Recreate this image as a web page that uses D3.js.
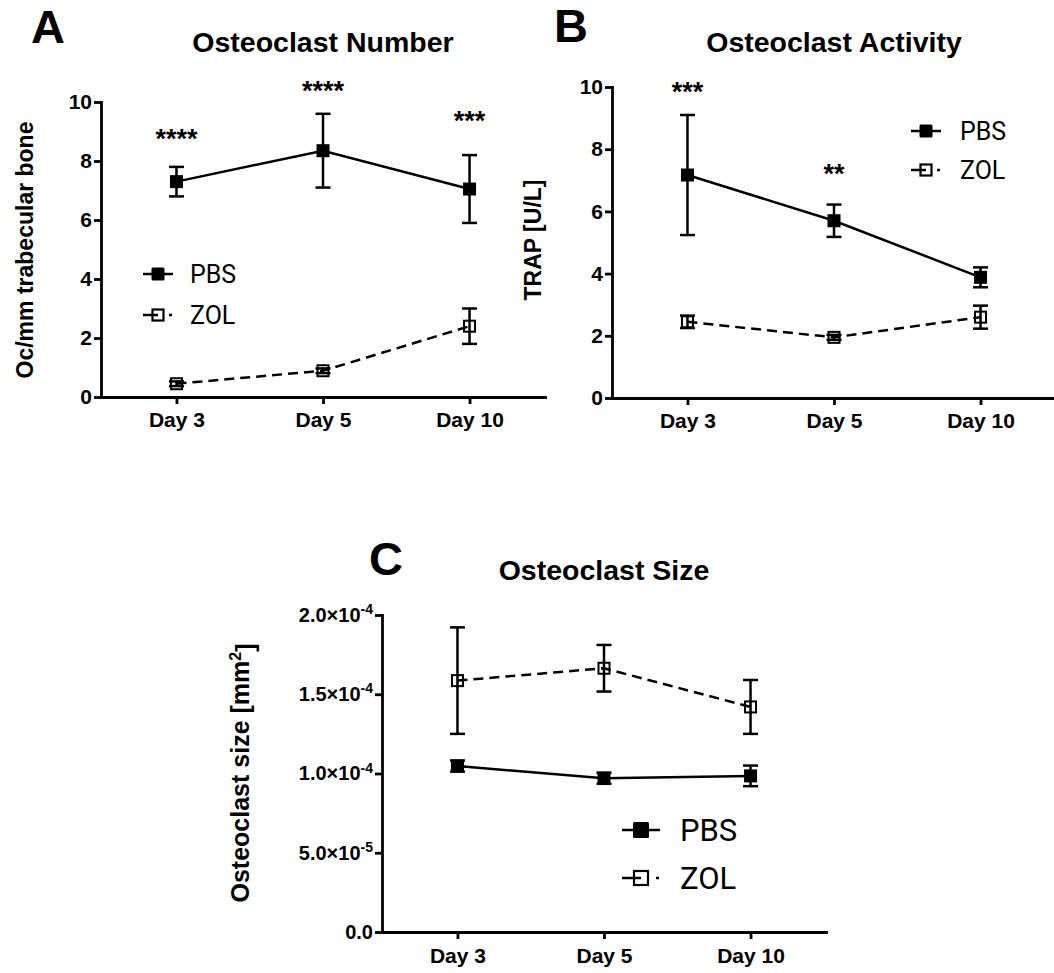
<!DOCTYPE html>
<html>
<head>
<meta charset="utf-8">
<script src="https://cdn.jsdelivr.net/npm/d3@7"></script>
<style>
  body { margin: 0; background: #fff; }
  svg text { font-family: "Liberation Sans", Arial, sans-serif; fill: #000; }
  .axis path, .axis line { stroke: #000; stroke-width: 2.8; }
  .axis text { font-weight: bold; font-size: 21px; }
</style>
</head>
<body>
<div id="fig"></div>
<script>
const days = ['Day 3', 'Day 5', 'Day 10'];

// A - osteoclast number
const numPBS = [7.3, 8.35, 7.05];
const numPBSerr = [0.5, 1.25, 1.15];
const numZOL = [0.45, 0.89, 2.4];
const numZOLerr = [0.08, 0.08, 0.6];
const numStars = ['****', '****', '***'];
const numStarLevel = [8.95, 10.58, 9.56];

// B - TRAP activity
const trapPBS = [7.17, 5.7, 3.88];
const trapPBSerr = [1.93, 0.52, 0.32];
const trapZOL = [2.45, 1.95, 2.6];
const trapZOLerr = [0.2, 0.08, 0.37];
const trapStars = ['***', '**', ''];
const trapStarLevel = [10.03, 7.4, 0];

// C - osteoclast size
const sizePBS = [1.047e-4, 0.97e-4, 0.985e-4];
const sizePBSerr = [0.035e-4, 0.035e-4, 0.065e-4];
const sizeZOL = [1.586e-4, 1.664e-4, 1.42e-4];
const sizeZOLerr = [0.336e-4, 0.147e-4, 0.17e-4];

const yTicksAB = [0, 2, 4, 6, 8, 10];
const yTicksC = [0, 5e-5, 1e-4, 1.5e-4, 2e-4];
const groups = ['PBS', 'ZOL'];

const svg = d3.select('#fig')
  .append('svg')
  .attr('width', 1054)
  .attr('height', 973);

function drawPanel(o) {
  const g = svg.append('g');

  const x = d3.scalePoint()
    .domain(days)
    .range([o.left, o.left + 444])
    .padding(0.515);

  const y = d3.scaleLinear()
    .domain(o.yDomain)
    .range([o.bottom, o.top]);

  // axes
  g.append('g')
    .attr('class', 'axis')
    .attr('transform', `translate(0,${o.bottom})`)
    .call(d3.axisBottom(x).tickSize(7).tickSizeOuter(0).tickPadding(o.xPad || 8));

  const gy = g.append('g')
    .attr('class', 'axis')
    .attr('transform', `translate(${o.left},0)`)
    .call(d3.axisLeft(y).tickValues(o.yTicks).tickSize(7).tickSizeOuter(0).tickPadding(2)
      .tickFormat(d3.format('d')));
  if (o.sciTicks) {
    gy.selectAll('.tick text').each(function(d) {
      const t = d3.select(this).text('').style('font-size', '20px');
      if (d === 0) { t.text('0.0'); return; }
      const [m, e] = d.toExponential(1).split('e');
      t.append('tspan').text(m + '×10');
      t.append('tspan').attr('dy', '-0.55em').style('font-size', '14px').text(String(+e));
    });
  }
  g.selectAll('.axis .domain').attr('stroke-linecap', 'square');

  const line = d3.line().x((d, i) => x(days[i])).y(d => y(d));

  // lines
  g.append('path').datum(o.zol)
    .attr('d', line).attr('fill', 'none').attr('stroke', '#000')
    .attr('stroke-width', 2.5).attr('stroke-dasharray', '10,6');
  g.append('path').datum(o.pbs)
    .attr('d', line).attr('fill', 'none').attr('stroke', '#000')
    .attr('stroke-width', 2.5);

  // error bars
  [[o.pbs, o.pbsErr], [o.zol, o.zolErr]].forEach(([vals, errs]) => {
    const eb = g.append('g').attr('stroke', '#000').attr('stroke-width', 2.5);
    vals.forEach((v, i) => {
      const cx = x(days[i]);
      const y1 = y(v + errs[i]), y2 = y(v - errs[i]);
      eb.append('line').attr('x1', cx).attr('x2', cx).attr('y1', y1).attr('y2', y2);
      eb.append('line').attr('x1', cx - 7.5).attr('x2', cx + 7.5).attr('y1', y1).attr('y2', y1);
      eb.append('line').attr('x1', cx - 7.5).attr('x2', cx + 7.5).attr('y1', y2).attr('y2', y2);
    });
  });

  // markers
  const ms = o.markerSize || 13;
  g.selectAll('.pbs').data(o.pbs).enter().append('rect')
    .attr('x', (d, i) => x(days[i]) - ms / 2).attr('y', d => y(d) - ms / 2)
    .attr('width', ms).attr('height', ms).attr('fill', '#000');
  g.selectAll('.zol').data(o.zol).enter().append('rect')
    .attr('x', (d, i) => x(days[i]) - (ms - 2) / 2).attr('y', d => y(d) - (ms - 2) / 2)
    .attr('width', ms - 2).attr('height', ms - 2)
    .attr('fill', 'none').attr('stroke', '#000').attr('stroke-width', 2);

  // significance stars
  if (o.stars) {
    g.selectAll('.star').data(o.stars).enter().append('text')
      .attr('x', (d, i) => x(days[i]))
      .attr('y', (d, i) => y(o.starLevel[i]) + 15)
      .attr('text-anchor', 'middle')
      .attr('font-weight', 'bold')
      .attr('font-size', '27px')
      .text(d => d);
  }

  // title, panel letter, y title
  g.append('text')
    .attr('x', x(days[1])).attr('y', o.titleY)
    .attr('text-anchor', 'middle').attr('font-weight', 'bold').attr('font-size', '28.5px')
    .text(o.title);
  g.append('text')
    .attr('x', o.letter[1]).attr('y', o.letter[2])
    .attr('text-anchor', 'middle').attr('font-weight', 'bold').attr('font-size', '47px')
    .text(o.letter[0]);
  const yt = g.append('text')
    .attr('transform', `translate(${o.yTitle[0]},${o.yTitle[1]}) rotate(-90)`)
    .attr('text-anchor', 'middle').attr('font-weight', 'bold').attr('font-size', o.yTitle[2] + 'px');
  if (o.yTitleSup) {
    yt.append('tspan').text(o.yTitleText);
    yt.append('tspan').attr('dy', '-0.5em').attr('font-size', '16px').text(o.yTitleSup);
    yt.append('tspan').attr('dy', '0.5em').text(']');
  } else {
    yt.text(o.yTitleText);
  }

  // legend
  const lg = o.legend;
  groups.forEach((name, k) => {
    const ly = lg.y[k];
    const cx = lg.x;
    const s = lg.size;
    const h = lg.half;
    const row = g.append('g');
    if (k === 0) {
      row.append('line').attr('x1', cx - h).attr('x2', cx + h).attr('y1', ly).attr('y2', ly)
        .attr('stroke', '#000').attr('stroke-width', 2.5);
      row.append('rect').attr('x', cx - s / 2).attr('y', ly - s / 2).attr('width', s).attr('height', s)
        .attr('rx', 1.5).attr('fill', '#000');
    } else {
      row.append('line').attr('x1', cx - h).attr('x2', cx).attr('y1', ly).attr('y2', ly)
        .attr('stroke', '#000').attr('stroke-width', 2.5);
      row.append('rect').attr('x', cx - (s - 2) / 2).attr('y', ly - (s - 2) / 2)
        .attr('width', s - 2).attr('height', s - 2)
        .attr('fill', 'none').attr('stroke', '#000').attr('stroke-width', 2.2);
      row.append('line').attr('x1', cx + h - 4).attr('x2', cx + h - 1).attr('y1', ly).attr('y2', ly)
        .attr('stroke', '#000').attr('stroke-width', 2.5);
    }
    row.append('text')
      .attr('x', lg.textX).attr('y', ly).attr('dy', '0.36em')
      .attr('font-size', lg.fs + 'px')
      .style('font-family', '"Liberation Sans Narrow", Roboto, "Liberation Sans", sans-serif')
      .text(name);
  });
}

drawPanel({
  left: 101, top: 102, bottom: 397,
  yDomain: [0, 10], yTicks: yTicksAB,
  pbs: numPBS, pbsErr: numPBSerr, zol: numZOL, zolErr: numZOLerr,
  stars: numStars, starLevel: numStarLevel,
  title: 'Osteoclast Number', titleY: 52,
  letter: ['A', 48, 43],
  yTitle: [33, 250, 23], yTitleText: 'Oc/mm trabecular bone',
  legend: { x: 158, y: [274, 315], textX: 190, fs: 25, size: 13, half: 15 }
});

drawPanel({
  left: 612, top: 87, bottom: 398,
  yDomain: [0, 10], yTicks: yTicksAB,
  pbs: trapPBS, pbsErr: trapPBSerr, zol: trapZOL, zolErr: trapZOLerr,
  stars: trapStars, starLevel: trapStarLevel,
  title: 'Osteoclast Activity', titleY: 52,
  letter: ['B', 571, 42],
  yTitle: [541, 240, 23], yTitleText: 'TRAP [U/L]',
  legend: { x: 926, y: [131, 170], textX: 960, fs: 25, size: 13, half: 15 }
});

drawPanel({
  left: 382, top: 615, bottom: 932,
  yDomain: [0, 2e-4], yTicks: yTicksC, sciTicks: true, xPad: 9,
  pbs: sizePBS, pbsErr: sizePBSerr, zol: sizeZOL, zolErr: sizeZOLerr,
  markerSize: 13,
  title: 'Osteoclast Size', titleY: 580,
  letter: ['C', 386, 575],
  yTitle: [249, 773, 25], yTitleText: 'Osteoclast size [mm', yTitleSup: '2',
  legend: { x: 641, y: [830, 878], textX: 680, fs: 31, size: 16, half: 19 }
});
</script>
</body>
</html>
